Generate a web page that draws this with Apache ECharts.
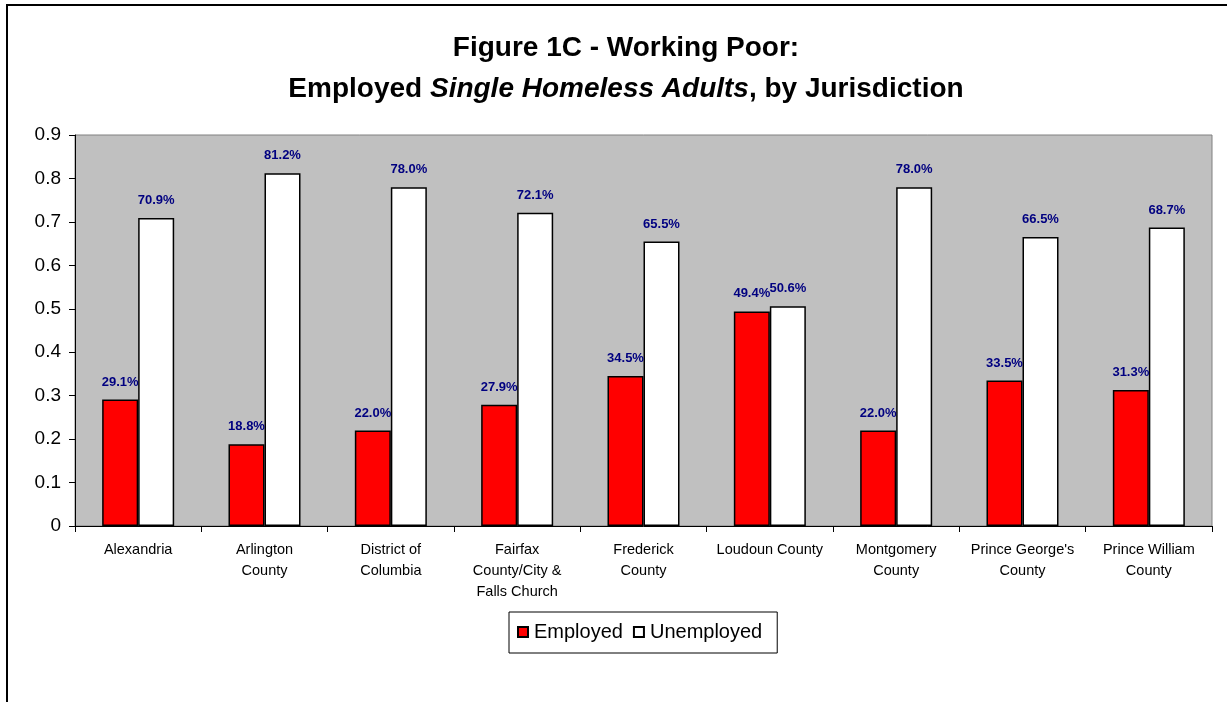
<!DOCTYPE html>
<html>
<head>
<meta charset="utf-8">
<script src="https://cdn.jsdelivr.net/npm/echarts@6/dist/echarts.min.js"></script>
<style>
  html, body { margin: 0; padding: 0; background: #fff; }
  #chart { width: 1227px; height: 702px; }
</style>
</head>
<body>
<div id="chart"></div>
<script>
var fontFamily = 'Liberation Sans, Arial, sans-serif';

var jurisdictions = [
    'Alexandria',
    'Arlington\nCounty',
    'District of\nColumbia',
    'Fairfax\nCounty/City &\nFalls Church',
    'Frederick\nCounty',
    'Loudoun County',
    'Montgomery\nCounty',
    "Prince George's\nCounty",
    'Prince William\nCounty'
];
var employed = [0.291, 0.188, 0.220, 0.279, 0.345, 0.494, 0.220, 0.335, 0.313];
var unemployed = [0.709, 0.812, 0.780, 0.721, 0.655, 0.506, 0.780, 0.665, 0.687];
var yTicks = { min: 0, max: 0.9, interval: 0.1 };

var chart = echarts.init(document.getElementById('chart'));

function pctLabel(p) {
    return (p.value * 100).toFixed(1) + '%';
}

var barLabel = {
    show: true,
    position: 'top',
    distance: 11,
    color: '#000080',
    fontFamily: fontFamily,
    fontWeight: 'bold',
    fontSize: 13,
    formatter: pctLabel
};

var option = {
    backgroundColor: '#fff',
    animation: false,
    textStyle: { fontFamily: fontFamily },
    title: {
        left: 621,
        top: 23,
        textAlign: 'center',
        text: '{b|Figure 1C - Working Poor:}\n{b|Employed }{i|Single Homeless Adults}{b|, by Jurisdiction}',
        textStyle: {
            rich: {
                b: { fontFamily: fontFamily, fontWeight: 'bold', fontSize: 28, color: '#000', lineHeight: 41 },
                i: { fontFamily: fontFamily, fontWeight: 'bold', fontStyle: 'italic', fontSize: 28, color: '#000', lineHeight: 41 }
            }
        }
    },
    graphic: [{
        type: 'rect',
        shape: { x: 7, y: 5, width: 1250, height: 730 },
        style: { fill: 'none', stroke: '#000', lineWidth: 2 },
        silent: true
    }],
    legend: {
        data: ['Employed', 'Unemployed'],
        left: 509,
        top: 612,
        orient: 'horizontal',
        icon: 'rect',
        itemWidth: 10,
        itemHeight: 10,
        itemGap: 10,
        padding: [10, 15, 11, 8],
        borderColor: '#000',
        borderWidth: 1,
        selectedMode: false,
        textStyle: { fontFamily: fontFamily, fontSize: 20, color: '#000', padding: [0, 0, 0, 1] }
    },
    grid: {
        left: 75,
        right: 15,
        top: 135,
        bottom: 176,
        show: true,
        backgroundColor: '#C0C0C0',
        borderColor: '#808080',
        borderWidth: 1
    },
    xAxis: {
        type: 'category',
        data: jurisdictions,
        axisLine: { lineStyle: { color: '#000', width: 1 } },
        axisTick: { show: true, length: 6, lineStyle: { color: '#000' } },
        axisLabel: {
            interval: 0,
            margin: 13,
            fontSize: 14.5,
            lineHeight: 21,
            color: '#000',
            fontFamily: fontFamily
        }
    },
    yAxis: {
        type: 'value',
        min: yTicks.min,
        max: yTicks.max,
        interval: yTicks.interval,
        axisLine: { show: true, lineStyle: { color: '#000', width: 1 } },
        axisTick: { show: true, length: 6, lineStyle: { color: '#000' } },
        splitLine: { show: false },
        axisLabel: {
            fontSize: 19,
            color: '#000',
            margin: 14,
            fontFamily: fontFamily,
            formatter: function (v) { return String(+v.toFixed(1)); }
        }
    },
    series: [{
        name: 'Employed',
        type: 'bar',
        data: employed,
        barGap: '0%',
        barCategoryGap: '43%',
        itemStyle: { color: '#FF0000', borderColor: '#000', borderWidth: 1.5 },
        label: barLabel
    }, {
        name: 'Unemployed',
        type: 'bar',
        data: unemployed,
        barGap: '0%',
        barCategoryGap: '43%',
        itemStyle: { color: '#FFFFFF', borderColor: '#000', borderWidth: 1.5 },
        label: barLabel
    }]
};

chart.setOption(option);
</script>
</body>
</html>
